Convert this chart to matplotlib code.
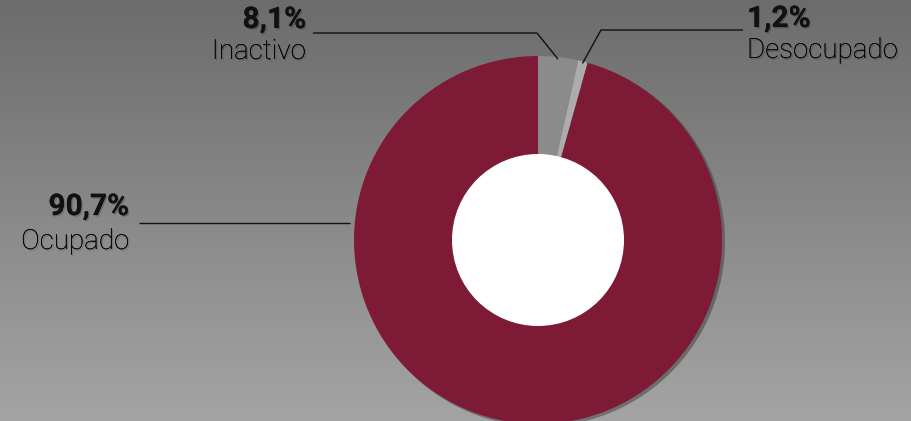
import numpy as np
import matplotlib
matplotlib.use("Agg")
import matplotlib.pyplot as plt
from matplotlib.patches import Circle
import matplotlib.patheffects as pe

# ---- data ----
categories = ["Inactivo", "Desocupado", "Ocupado"]
percent_labels = ["8,1%", "1,2%", "90,7%"]
# slice sizes as drawn in the reference (share of the ring, %)
slice_shares = [3.5, 0.85, 95.65]
slice_colors = ["#8b8b8b", "#acacac", "#7d1b37"]

W, H = 912, 421
plt.rcParams["font.family"] = ["Roboto", "DejaVu Sans"]

fig = plt.figure(figsize=(W / 100, H / 100), dpi=100)
ax = fig.add_axes([0, 0, 1, 1])

# background vertical gradient (dark top -> lighter bottom)
grad = np.linspace(164, 108, H)[:, None] / 255.0
img = np.repeat(np.repeat(grad, W, axis=1)[:, :, None], 3, axis=2)
ax.imshow(img, extent=(0, W, 0, H), origin="lower", zorder=0, interpolation="bilinear")

# donut geometry (pixel units, y up)
cx, cy = 538, H - 240
R_out, R_in = 184, 86

ax.add_patch(Circle((cx + 2.5, cy - 2.0), R_out + 0.5, color="#303030", alpha=0.45, lw=0, zorder=1))
wedges, _ = ax.pie(slice_shares, colors=slice_colors, startangle=90, counterclock=False,
                   center=(cx, cy), radius=R_out, frame=True,
                   wedgeprops=dict(linewidth=0, zorder=2))
for w in wedges:
    w.set_zorder(2)
ax.add_patch(Circle((cx, cy), R_in, color="white", lw=0, zorder=3))

def anchor(w, r=R_out - 2):
    a = np.deg2rad((w.theta1 + w.theta2) / 2)
    return cx + r * np.cos(a), cy + r * np.sin(a)

line_kw = dict(color="#111111", lw=1.0, zorder=4, solid_capstyle="butt")
shadow = [pe.withSimplePatchShadow(offset=(1, -1), shadow_rgbFace="black", alpha=0.22), pe.Normal()]
pct_kw = dict(color="#111111", fontsize=21.5, fontweight="bold", zorder=5,
              path_effects=shadow, va="baseline")
cat_kw = dict(color="#000000", fontsize=20, fontweight="light", zorder=5,
              path_effects=shadow, va="baseline")

# Inactivo (left of top)
a0 = anchor(wedges[0])
ax.plot([313, 537, a0[0]], [H - 33, H - 33, a0[1]], **line_kw)
ax.text(306, H - 28, percent_labels[0], ha="right", **pct_kw)
ax.text(306, H - 59, categories[0], ha="right", **cat_kw)

# Desocupado (right of top)
a1 = anchor(wedges[1])
ax.plot([743, 601, a1[0]], [H - 30, H - 30, a1[1]], **line_kw)
ax.text(747, H - 27, percent_labels[1], ha="left", **pct_kw)
ax.text(747, H - 58, categories[1], ha="left", **cat_kw)

# Ocupado (left)
ax.plot([139, 350], [H - 223, H - 223], **line_kw)
ax.text(129, H - 215, percent_labels[2], ha="right", **pct_kw)
ax.text(129, H - 249, categories[2], ha="right", **cat_kw)

ax.set_xlim(0, W)
ax.set_ylim(0, H)
ax.set_aspect("auto")
ax.axis("off")

fig.savefig("out.png", dpi=100)
